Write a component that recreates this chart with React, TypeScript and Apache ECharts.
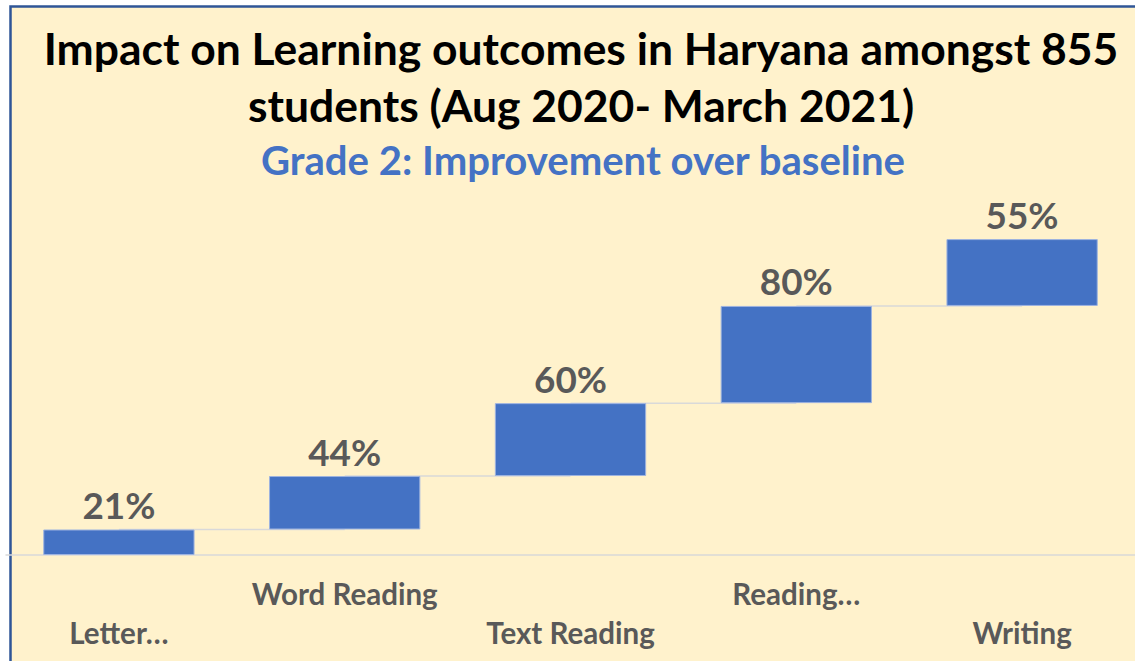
import React, { useEffect, useRef } from "react";
import * as echarts from "echarts";

const titleLines = ["Impact on Learning outcomes in Haryana amongst 855", "students (Aug 2020- March 2021)"];
const subtitle = "Grade 2: Improvement over baseline";
const categories = ["Letter…", "Word Reading", "Text Reading", "Reading…", "Writing"];
const improvement = [21, 44, 60, 80, 55];

const FONT = "Lato, 'Open Sans', sans-serif";

function fitSize(text: string, target: number): number {
  const c = document.createElement("canvas");
  const ctx = c.getContext("2d");
  if (!ctx) return 30;
  ctx.font = `bold 100px ${FONT}`;
  const w = ctx.measureText(text).width;
  return (100 * target) / w;
}

export default function App() {
  const ref = useRef<HTMLDivElement>(null);
  useEffect(() => {
    if (!ref.current) return;
    const chart = echarts.init(ref.current, undefined, { renderer: "svg" });

    const base: number[] = [];
    const totals: number[] = [];
    let run = 0;
    improvement.forEach((v) => {
      base.push(run);
      run += v;
      totals.push(run);
    });

    const titleSize = fitSize(titleLines[0], 1075);
    const subSize = fitSize(subtitle, 645);
    const axisSize = fitSize("Word Reading", 186);
    const labelSize = fitSize("55%", 73);

    const txt = (text: string, x: number, y: number, size: number, fill: string) => ({
      type: "text",
      x,
      y,
      z: 10,
      style: {
        text,
        fill,
        fontSize: size,
        fontWeight: "bold",
        fontFamily: FONT,
        align: "center",
        verticalAlign: "middle",
        textAlign: "center",
        textVerticalAlign: "middle",
      },
    });

    chart.setOption({
      animation: false,
      backgroundColor: "#FFFFFF",
      graphic: [
        {
          type: "rect",
          z: -100,
          shape: { x: 10.5, y: 6.5, width: 1400, height: 900 },
          style: { fill: "#FFF2CC", stroke: "#2F5597", lineWidth: 2.5 },
        },
        txt(titleLines[0], 581, 47, titleSize, "#000000"),
        txt(titleLines[1], 581, 104, titleSize, "#000000"),
        txt(subtitle, 583, 159, subSize, "#4472C4"),
      ],
      grid: { left: 6, width: 1130, top: 190.5, height: 364.5 },
      xAxis: {
        type: "category",
        data: categories,
        axisLine: { lineStyle: { color: "#D9D9D9", width: 1.5 } },
        axisTick: { show: false },
        axisLabel: {
          interval: 0,
          margin: 19,
          lineHeight: 39,
          fontSize: axisSize,
          fontWeight: "bold",
          fontFamily: FONT,
          color: "#595959",
          formatter: (v: string, i: number) => (i % 2 === 0 ? "\n" + v : v),
        },
      },
      yAxis: { type: "value", min: 0, max: 300, show: false, splitLine: { show: false } },
      series: [
        {
          type: "custom",
          z: 1,
          data: totals.slice(0, -1).map((t, i) => [i, t]),
          renderItem: (params: any, api: any) => {
            const i = api.value(0);
            const y = api.value(1);
            const p1 = api.coord([i, y]);
            const p2 = api.coord([i + 1, y]);
            return {
              type: "line",
              shape: { x1: p1[0], y1: p1[1], x2: p2[0], y2: p2[1] },
              style: { stroke: "#D9D9D9", lineWidth: 1.5 },
            };
          },
        },
        {
          type: "bar",
          stack: "w",
          z: 3,
          data: base,
          itemStyle: { color: "transparent" },
          barCategoryGap: "33%",
          silent: true,
        },
        {
          type: "bar",
          stack: "w",
          z: 3,
          data: improvement,
          barCategoryGap: "33%",
          itemStyle: { color: "#4472C4", borderColor: "#9DB3E0", borderWidth: 1 },
          label: {
            show: true,
            position: "top",
            distance: 5,
            lineHeight: 39,
            fontSize: labelSize,
            fontWeight: "bold",
            fontFamily: FONT,
            color: "#595959",
            formatter: (p: any) => `${p.value}%`,
          },
        },
      ],
    });
    return () => chart.dispose();
  }, []);
  return <div ref={ref} style={{ position: "fixed", left: 0, top: 0, width: 1135, height: 661 }} />;
}
